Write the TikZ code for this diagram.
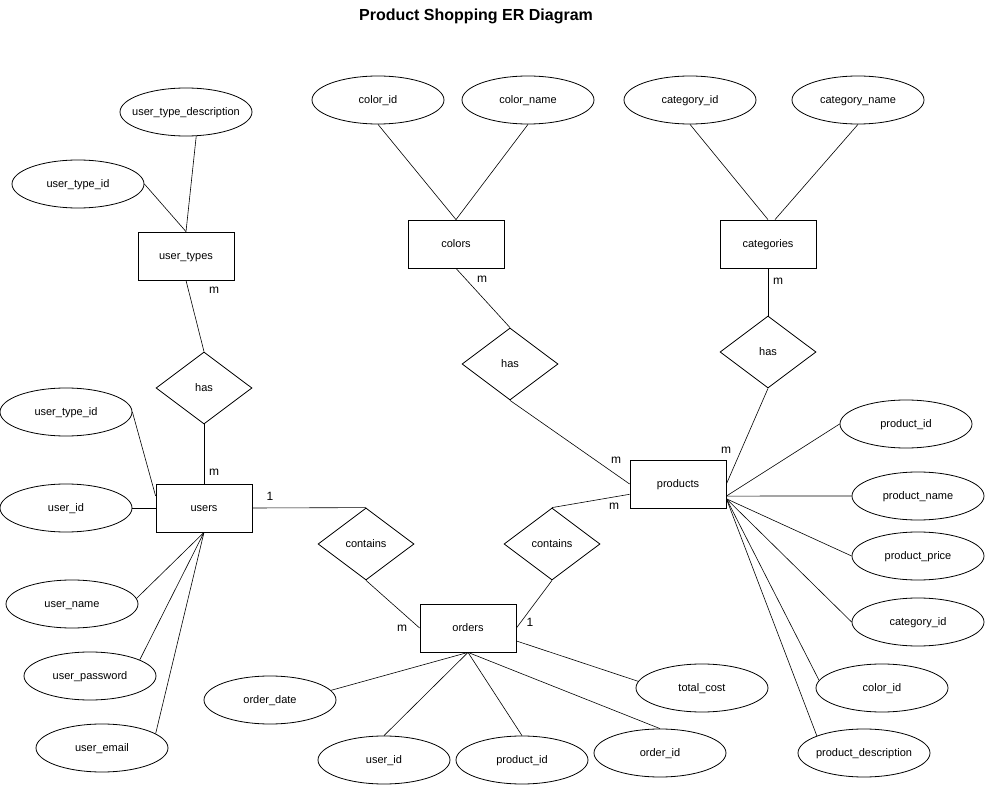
\documentclass[tikz,border=0pt]{standalone}
\usepackage{fontspec}
\setmainfont{Liberation Sans}
\usetikzlibrary{shapes.geometric}

\begin{document}
\begin{tikzpicture}[x=1pt, y=-1pt]
		\tikzstyle{Entity} = [rectangle, minimum width=96pt, minimum height=48pt, inner sep=0pt, text height=7.7pt, text depth=0pt, text centered, draw=black, line width=0.8pt, font=\fontsize{11}{13}\selectfont]
		\tikzstyle{Attribute} = [ellipse, minimum width=132pt, minimum height=48pt, inner sep=0pt, text height=7.7pt, text depth=0pt, text centered, draw=black, line width=0.8pt, font=\fontsize{11}{13}\selectfont]
		\tikzstyle{Relation} = [diamond, minimum width=96pt, minimum height=72pt, inner sep=0pt, text height=7.7pt, text depth=0pt, text centered, draw=black, line width=0.8pt, font=\fontsize{11}{13}\selectfont]
		\tikzstyle{Card} = [inner sep=0pt, font=\fontsize{12}{14}\selectfont]
		\tikzstyle{link} = [line width=0.6pt]
		
		\useasboundingbox (0,0) rectangle (986,786);
		\node (title) at (476,16) {\bfseries\fontsize{16}{19}\selectfont Product Shopping ER Diagram};
		
		% entities
		\node (usertypes) [Entity] at (186,256) {user\_types};
		\node (colors) [Entity] at (456,244) {colors};
		\node (categories) [Entity] at (768,244) {categories};
		\node (users) [Entity] at (204,508) {users};
		\node (products) [Entity] at (678,484) {products};
		\node (orders) [Entity] at (468,628) {orders};
		
		% relations
		\node (hasut) [Relation] at (204,388) {has};
		\node (hascol) [Relation] at (510,364) {has};
		\node (hascat) [Relation] at (768,352) {has};
		\node (contu) [Relation] at (366,544) {contains};
		\node (contp) [Relation] at (552,544) {contains};
		
		% attributes (long texts kept inside the fixed ellipse)
		\node (utdesc) [Attribute] at (186,112) {\makebox[0pt]{user\_type\_description}};
		\node (utid) [Attribute] at (78,184) {user\_type\_id};
		\node (colid) [Attribute] at (378,100) {color\_id};
		\node (colname) [Attribute] at (528,100) {color\_name};
		\node (catid) [Attribute] at (690,100) {category\_id};
		\node (catname) [Attribute] at (858,100) {\makebox[0pt]{category\_name}};
		\node (uutid) [Attribute] at (66,412) {user\_type\_id};
		\node (uid) [Attribute] at (66,508) {user\_id};
		\node (uname) [Attribute] at (72,604) {user\_name};
		\node (upass) [Attribute] at (90,676) {\makebox[0pt]{user\_password}};
		\node (umail) [Attribute] at (102,748) {user\_email};
		\node (odate) [Attribute] at (270,700) {order\_date};
		\node (ouid) [Attribute] at (384,760) {user\_id};
		\node (opid) [Attribute] at (522,760) {product\_id};
		\node (oid) [Attribute] at (660,753) {order\_id};
		\node (ocost) [Attribute] at (702,688) {total\_cost};
		\node (pid) [Attribute] at (906,424) {product\_id};
		\node (pname) [Attribute] at (918,496) {\makebox[0pt]{product\_name}};
		\node (pprice) [Attribute] at (918,556) {\makebox[0pt]{product\_price}};
		\node (pcatid) [Attribute] at (918,622) {category\_id};
		\node (pcolid) [Attribute] at (882,688) {color\_id};
		\node (pdesc) [Attribute] at (864,753) {\makebox[0pt]{product\_description}};
		
		% attribute links
		\draw [link] (utdesc.-67) -- (usertypes.north);
		\draw [link] (utid.east) -- (usertypes.north);
		\draw [link] (colid.south) -- (colors.north);
		\draw [link] (colname.south) -- (colors.north);
		\draw [link] (catid.south) -- (categories.north);
		\draw [link] (catname.south) -- (categories.74);
		\draw [link] (uutid.east) -- (users.166);
		\draw [link] (uid.east) -- (users.west);
		\draw [link] (uname.5) -- (users.south);
		\draw [link] (upass.18) -- (users.south);
		\draw [link] (umail.15) -- (users.south);
		\draw [link] (odate.9) -- (orders.south);
		\draw [link] (ouid.north) -- (orders.south);
		\draw [link] (opid.north) -- (orders.south);
		\draw [link] (oid.north) -- (orders.south);
		\draw [link] (ocost.174) -- (orders.-15);
		\draw [link] (pid.west) -- (products.-14);
		\draw [link] (pname.west) -- (products.-14);
		\draw [link] (pprice.west) -- (products.-17);
		\draw [link] (pcatid.west) -- (products.-17);
		\draw [link] (pcolid.173) -- (products.-17);
		\draw [link] (pdesc.160) -- (products.-17);
		
		% relation links
		\draw [link] (usertypes.south) -- (hasut.north);
		\draw [link] (hasut.south) -- (users.north);
		\draw [link] (colors.south) -- (hascol.north);
		\draw [link] (hascol.south) -- (products.west);
		\draw [link] (categories.south) -- (hascat.north);
		\draw [link] (hascat.south) -- (products.east);
		\draw [link] (users.east) -- (contu.north);
		\draw [link] (contu.south) -- (orders.west);
		\draw [link] (contp.north) -- (products.192);
		\draw [link] (contp.south) -- (orders.east);
		
		% cardinalities
		\node (c1) [Card] at (214,290) {m};
		\node (c2) [Card] at (214,472) {m};
		\node (c3) [Card] at (270,496) {1};
		\node (c4) [Card] at (482,279) {m};
		\node (c5) [Card] at (616,460) {m};
		\node (c6) [Card] at (614,506) {m};
		\node (c7) [Card] at (778,281) {m};
		\node (c8) [Card] at (726,450) {m};
		\node (c9) [Card] at (402,628) {m};
		\node (c10) [Card] at (530,622) {1};
		\end{tikzpicture}
\end{document}
